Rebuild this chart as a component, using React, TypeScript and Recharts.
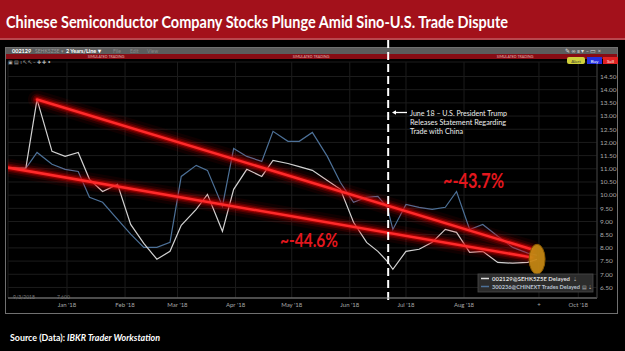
import {
  LineChart,
  Line,
  XAxis,
  YAxis,
  CartesianGrid,
  ReferenceLine,
  ReferenceDot,
} from "recharts";

// days counted from 1 Jan 2018 (negative = Dec 2017)
const days = [
  -32, -22, -16, -8, -1, 6, 12, 19, 27, 34, 41, 48, 55, 61, 69, 75, 83, 89, 96,
  104, 110, 118, 124, 131, 139, 146, 153, 160, 166, 171, 174, 181, 188, 195,
  202, 208, 215, 222, 230, 238, 246, 251,
];

// 002129@SEHK5Z5E (white)
const stock002129 = [
  11.05, 11.02, 13.63, 11.66, 11.47, 11.62, 10.6, 10.14, 10.41, 8.89, 8.17,
  7.57, 7.87, 8.86, 9.46, 10.03, 8.63, 10.22, 10.98, 10.71, 11.32, 11.2, 11.08,
  10.94, 10.56, 10.22, 8.97, 8.21, 7.87, 7.49, 7.19, 7.87, 7.95, 8.21, 8.7,
  8.59, 7.83, 7.87, 7.45, 7.42, 7.45, 7.57,
];

// 300236@CHINEXT (blue)
const stock300236 = [
  11.05, 11.02, 11.62, 11.17, 10.98, 10.9, 9.92, 9.73, 9.08, 8.52, 8.02, 8.02,
  8.21, 10.71, 11.13, 10.94, 9.58, 11.77, 11.47, 11.28, 12.42, 12.04, 12.04,
  12.38, 11.47, 10.48, 9.73, 9.92, 9.95, 9.54, 8.7, 9.65, 9.54, 9.46, 9.54,
  10.14, 8.7, 8.89, 8.44, 8.02, 7.8, 7.72,
];

const trendUpperDays = [-16, 248];
const trendUpperValues = [13.63, 7.95];
const trendLowerDays = [-32, 248];
const trendLowerValues = [11.05, 7.64];

const eventDay = 171.5; // June 18
const endDay = 251;
const endValue = 7.57;

const xTicks = [0, 31, 59, 90, 120, 151, 181, 212, 252, 273];
const xTickLabels = [
  "Jan '18",
  "Feb '18",
  "Mar '18",
  "Apr '18",
  "May '18",
  "Jun '18",
  "Jul '18",
  "Aug '18",
  "+",
  "Oct '18",
];
const yTicks = [
  6.5, 7, 7.5, 8, 8.5, 9, 9.5, 10, 10.5, 11, 11.5, 12, 12.5, 13, 13.5, 14, 14.5,
];

const whiteData = days.map((d, i) => ({ day: d, v: stock002129[i] }));
const blueData = days.map((d, i) => ({ day: d, v: stock300236[i] }));
const upperData = trendUpperDays.map((d, i) => ({ day: d, v: trendUpperValues[i] }));
const lowerData = trendLowerDays.map((d, i) => ({ day: d, v: trendLowerValues[i] }));

const glowLayers = [
  { w: 18, c: "#ff0000", o: 0.06 },
  { w: 12, c: "#ff0000", o: 0.12 },
  { w: 8, c: "#d00000", o: 0.28 },
  { w: 5, c: "#d00000", o: 0.5 },
  { w: 2.5, c: "#ff2a2a", o: 1 },
];

const FONT = "Lato, 'Liberation Sans', sans-serif";

export default function App() {
  return (
    <div
      style={{
        position: "absolute",
        left: 0,
        top: 0,
        width: 625,
        height: 351,
        background: "#000",
        overflow: "hidden",
      }}
    >
      {/* title bar */}
      <div
        style={{
          position: "absolute",
          left: 0,
          top: 0,
          width: 625,
          height: 38,
          background: "#a3111b",
          borderBottom: "2px solid #b8474e",
        }}
      />
      {/* window frame */}
      <div
        style={{
          position: "absolute",
          left: 5,
          top: 47,
          width: 611,
          height: 265,
          border: "1px solid #707070",
        }}
      />
      <div
        style={{ position: "absolute", left: 6, top: 48, width: 611, height: 6, background: "#5c5c5c" }}
      />
      <div
        style={{ position: "absolute", left: 6, top: 54, width: 611, height: 5, background: "#870c14" }}
      />

      <div style={{ position: "absolute", left: 0, top: 0 }}>
        <LineChart width={625} height={351} margin={{ top: 62, right: 0, bottom: 38, left: 8 }}>
          <CartesianGrid stroke="#1c1c1c" />
          <XAxis
            dataKey="day"
            type="number"
            domain={[-31.5, 283]}
            ticks={xTicks}
            interval={0}
            allowDataOverflow
            tickFormatter={(v) => xTickLabels[xTicks.indexOf(v)] ?? ""}
            axisLine={{ stroke: "#8a8a8a" }}
            tickLine={false}
            tickSize={0}
            tickMargin={5}
            height={15}
            tick={{ fill: "#a8a8a8", fontSize: 6, fontFamily: FONT }}
          />
          <YAxis
            orientation="right"
            type="number"
            domain={[6.1, 15.05]}
            ticks={yTicks}
            interval={0}
            allowDataOverflow
            tickFormatter={(v) => v.toFixed(2)}
            axisLine={{ stroke: "#3a3a3a" }}
            tickLine={false}
            tickSize={0}
            tickMargin={3}
            width={28}
            tick={{ fill: "#a8a8a8", fontSize: 6.5, fontFamily: FONT }}
          />
          <Line
            data={blueData}
            dataKey="v"
            stroke="#4d7198"
            strokeWidth={1.2}
            dot={false}
            activeDot={false}
            isAnimationActive={false}
          />
          <Line
            data={whiteData}
            dataKey="v"
            stroke="#d2d2d2"
            strokeWidth={1.2}
            dot={false}
            activeDot={false}
            isAnimationActive={false}
          />
          {glowLayers.map((g, i) => (
            <Line
              key={"u" + i}
              data={upperData}
              dataKey="v"
              stroke={g.c}
              strokeOpacity={g.o}
              strokeWidth={g.w}
              strokeLinecap="round"
              dot={false}
              activeDot={false}
              isAnimationActive={false}
            />
          ))}
          {glowLayers.map((g, i) => (
            <Line
              key={"l" + i}
              data={lowerData}
              dataKey="v"
              stroke={g.c}
              strokeOpacity={g.o}
              strokeWidth={g.w}
              strokeLinecap="round"
              dot={false}
              activeDot={false}
              isAnimationActive={false}
            />
          ))}
          <ReferenceLine
            x={eventDay}
            stroke="#ffffff"
            shape={(p: any) => (
              <line
                x1={p.x1}
                x2={p.x2}
                y1={Math.min(p.y1, p.y2) - 22}
                y2={Math.max(p.y1, p.y2) + 4}
                stroke="#ffffff"
                strokeWidth={2}
                strokeDasharray="8 4"
              />
            )}
          />
          <ReferenceDot
            x={endDay}
            y={endValue}
            r={8}
            shape={(p: any) => (
              <ellipse
                cx={p.cx}
                cy={p.cy}
                rx={8}
                ry={15}
                fill="#c98a14"
                fillOpacity={0.92}
                stroke="#8a5a00"
                strokeWidth={1}
              />
            )}
          />
        </LineChart>
      </div>

      {/* text overlay */}
      <svg
        width={625}
        height={351}
        style={{ position: "absolute", left: 0, top: 0, pointerEvents: "none" }}
        fontFamily={FONT}
      >
        <text x={6} y={28} fontSize={17} fontWeight={700} fill="#fff" textLength={502} lengthAdjust="spacingAndGlyphs">
          Chinese Semiconductor Company Stocks Plunge Amid Sino-U.S. Trade Dispute
        </text>

        {/* toolbar */}
        <text x={12} y={53} fontSize={5.5} fontWeight={700} fill="#fff">002129</text>
        <text x={35} y={53} fontSize={5} fill="#999">SEHK5Z5E ▾</text>
        <text x={66} y={53} fontSize={5.5} fontWeight={700} fill="#fff">2 Years/Line ▾</text>
        <text x={113} y={53} fontSize={5} fill="#888">File</text>
        <text x={130} y={53} fontSize={5} fill="#888">Edit</text>
        <text x={147} y={53} fontSize={5} fill="#888">View</text>
        <text x={565} y={53} fontSize={5.5} fill="#ddd">✎ ∞  ≡ ▾  ‒ ▭ ×</text>
        {[106, 311, 515].map((cx) => (
          <text key={cx} x={cx} y={58} fontSize={3.6} fill="#e6b4b4" textAnchor="middle">
            SIMULATED TRADING
          </text>
        ))}
        <text x={8} y={64} fontSize={5} fill="#b0b0b0">▣ ▤ ı ↖ ↖ ‒ ✚ ✚ •</text>

        {/* order buttons */}
        <rect x={567} y={57} width={18} height={7} rx={2} fill="#cfd03a" />
        <text x={576} y={62.5} fontSize={4.5} fill="#333" textAnchor="middle">Alert</text>
        <rect x={587} y={57} width={15} height={7} fill="#2430e0" />
        <text x={594.5} y={62.5} fontSize={4.5} fill="#fff" textAnchor="middle">Buy</text>
        <rect x={603} y={57} width={15} height={7} fill="#e02222" />
        <text x={610.5} y={62.5} fontSize={4.5} fill="#fff" textAnchor="middle">Sell</text>

        {/* event annotation */}
        <line x1={395} y1={112.5} x2={407} y2={112.5} stroke="#fff" strokeWidth={1.3} />
        <path d="M392,112.5 L396,110.3 L396,114.7 Z" fill="#fff" />
        <text x={410} y={115.5} fontSize={8} fill="#eee" textLength={97} lengthAdjust="spacingAndGlyphs">
          June 18 – U.S. President Trump
        </text>
        <text x={410} y={124.5} fontSize={8} fill="#eee" textLength={96} lengthAdjust="spacingAndGlyphs">
          Releases Statement Regarding
        </text>
        <text x={410} y={133.5} fontSize={8} fill="#eee" textLength={53} lengthAdjust="spacingAndGlyphs">
          Trade with China
        </text>

        {/* percentage labels */}
        <text x={443} y={188} fontSize={20} fontWeight={700} fill="#e3171e" textLength={61} lengthAdjust="spacingAndGlyphs">
          ~-43.7%
        </text>
        <text x={280} y={247} fontSize={19} fontWeight={700} fill="#e3171e" textLength={58} lengthAdjust="spacingAndGlyphs">
          ~-44.6%
        </text>

        {/* legend */}
        <rect x={478} y={274} width={115} height={18} fill="#2c2c2c" stroke="#4a4a4a" strokeWidth={0.8} />
        <line x1={481} y1={278.5} x2={489} y2={278.5} stroke="#ddd" strokeWidth={1.5} />
        <text x={492} y={280.5} fontSize={5.5} fontWeight={700} fill="#ddd" textLength={78} lengthAdjust="spacingAndGlyphs">
          002129@SEHK5Z5E Delayed
        </text>
        <text x={573} y={280.5} fontSize={5} fill="#bbb">⇣</text>
        <line x1={481} y1={286.5} x2={489} y2={286.5} stroke="#4d7198" strokeWidth={1.5} />
        <text x={492} y={288.5} fontSize={5.5} fontWeight={700} fill="#b8c2d0" textLength={88} lengthAdjust="spacingAndGlyphs">
          300236@CHINEXT Trades Delayed
        </text>
        <text x={582} y={288.5} fontSize={5} fill="#bbb">▤ ⇣</text>

        {/* crosshair readout */}
        <text x={13} y={299} fontSize={5} fill="#777">9/3/2018</text>
        <text x={57} y={299} fontSize={5} fill="#777">7.600</text>

        {/* source */}
        <text x={10} y={340.5} fontSize={10} fontWeight={700} fill="#fff" textLength={55} lengthAdjust="spacingAndGlyphs">
          Source (Data):
        </text>
        <text x={67} y={340.5} fontSize={10} fontWeight={700} fontStyle="italic" fill="#fff" textLength={93} lengthAdjust="spacingAndGlyphs">
          IBKR Trader Workstation
        </text>
      </svg>
    </div>
  );
}
